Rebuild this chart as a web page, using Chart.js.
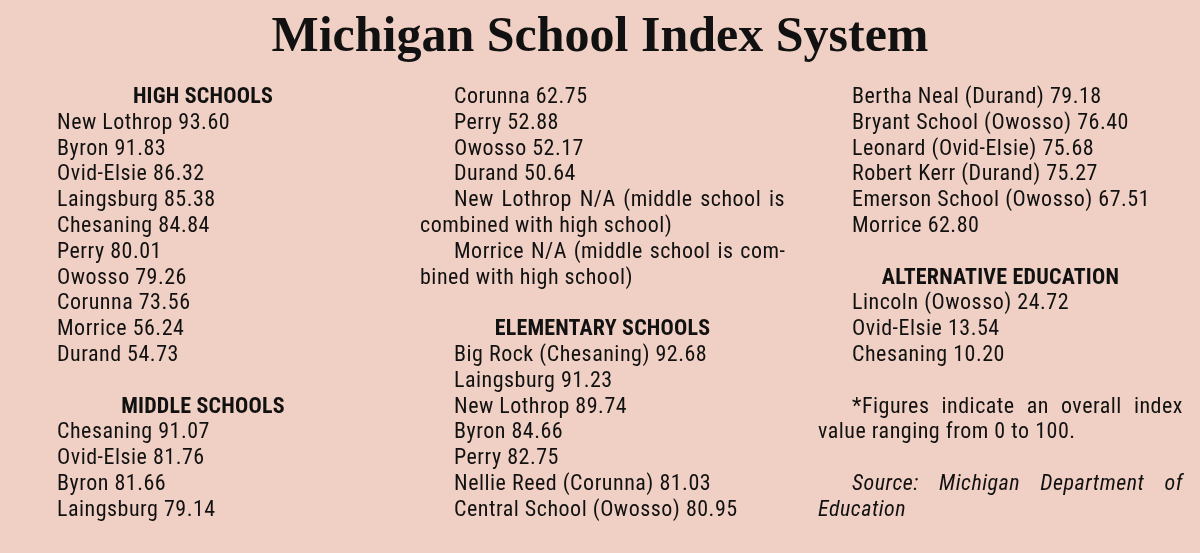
<!DOCTYPE html>
<html><head><meta charset="utf-8">
<script src="https://cdn.jsdelivr.net/npm/chart.js@4"></script>
<style>
html,body{margin:0;padding:0;background:#f0d0c4;}
#wrap{position:relative;width:1200px;height:553px;background:#f0d0c4;overflow:hidden;}
#c{position:absolute;left:0;top:0;}
.col{position:absolute;top:83px;font-family:"Liberation Sans Narrow","Roboto Condensed","Liberation Sans",sans-serif;font-size:22px;letter-spacing:0.5px;line-height:25.8px;color:#111;}
.h{font-weight:bold;text-align:center;letter-spacing:0.2px;}
.i{padding-left:34px;white-space:nowrap;}
.p{text-indent:34px;}
.gap{height:25.8px;}
</style></head><body>
<div id="wrap"><canvas id="c" width="1200" height="553"></canvas>
<div class="col" id="c1" style="left:23px;width:360px"></div>
<div class="col" id="c2" style="left:420px;width:365px"></div>
<div class="col" id="c3" style="left:818px;width:365px"></div>
</div>
<script>
const title = "Michigan School Index System";
const highSchools = ["New Lothrop","Byron","Ovid-Elsie","Laingsburg","Chesaning","Perry","Owosso","Corunna","Morrice","Durand"];
const highScores = ["93.60","91.83","86.32","85.38","84.84","80.01","79.26","73.56","56.24","54.73"];
const middleSchools = ["Chesaning","Ovid-Elsie","Byron","Laingsburg","Corunna","Perry","Owosso","Durand"];
const middleScores = ["91.07","81.76","81.66","79.14","62.75","52.88","52.17","50.64"];
const middleNotes = ["New Lothrop N/A (middle school is combined with high school)","Morrice N/A (middle school is com\u00adbined with high school)"];
const elemSchools = ["Big Rock (Chesaning)","Laingsburg","New Lothrop","Byron","Perry","Nellie Reed (Corunna)","Central School (Owosso)","Bertha Neal (Durand)","Bryant School (Owosso)","Leonard (Ovid-Elsie)","Robert Kerr (Durand)","Emerson School (Owosso)","Morrice"];
const elemScores = ["92.68","91.23","89.74","84.66","82.75","81.03","80.95","79.18","76.40","75.68","75.27","67.51","62.80"];
const altSchools = ["Lincoln (Owosso)","Ovid-Elsie","Chesaning"];
const altScores = ["24.72","13.54","10.20"];
const footnote = "*Figures indicate an overall index value ranging from 0 to 100.";
const source = "Source: Michigan Department of Education";

new Chart(document.getElementById('c'),{type:'scatter',data:{datasets:[{data:[]}]},
 options:{responsive:false,animation:false,layout:{padding:{top:6}},
  scales:{x:{display:false},y:{display:false}},
  plugins:{legend:{display:false},tooltip:{enabled:false},
   title:{display:true,text:title,color:'#111',font:{family:'"Liberation Serif","DejaVu Serif",serif',size:50,weight:'bold'},padding:{top:2,bottom:0}}}}});

const it=(n,s)=>`<div class="i">${n} ${s}</div>`;
const h=t=>`<div class="h">${t}</div>`;
const gap='<div class="gap"></div>';
let c1=h("HIGH SCHOOLS")+highSchools.map((n,k)=>it(n,highScores[k])).join("")+gap+h("MIDDLE SCHOOLS")+
  middleSchools.slice(0,4).map((n,k)=>it(n,middleScores[k])).join("");
let c2=middleSchools.slice(4).map((n,k)=>it(n,middleScores[k+4])).join("")+
  middleNotes.map(t=>`<div class="p" style="text-align:justify">${t}</div>`).join("")+gap+
  `<div class="h">ELEMENTARY SCHOOLS</div>`+
  elemSchools.slice(0,7).map((n,k)=>it(n,elemScores[k])).join("");
let c3=elemSchools.slice(7).map((n,k)=>it(n,elemScores[k+7])).join("")+gap+
  h("ALTERNATIVE EDUCATION")+altSchools.map((n,k)=>it(n,altScores[k])).join("")+gap+
  `<div class="p" style="text-align:justify">${footnote}</div>`+gap+
  `<div class="p" style="text-align:justify;font-style:italic">${source}</div>`;
document.getElementById('c1').innerHTML=c1;
document.getElementById('c2').innerHTML=c2;
document.getElementById('c3').innerHTML=c3;
</script></body></html>
